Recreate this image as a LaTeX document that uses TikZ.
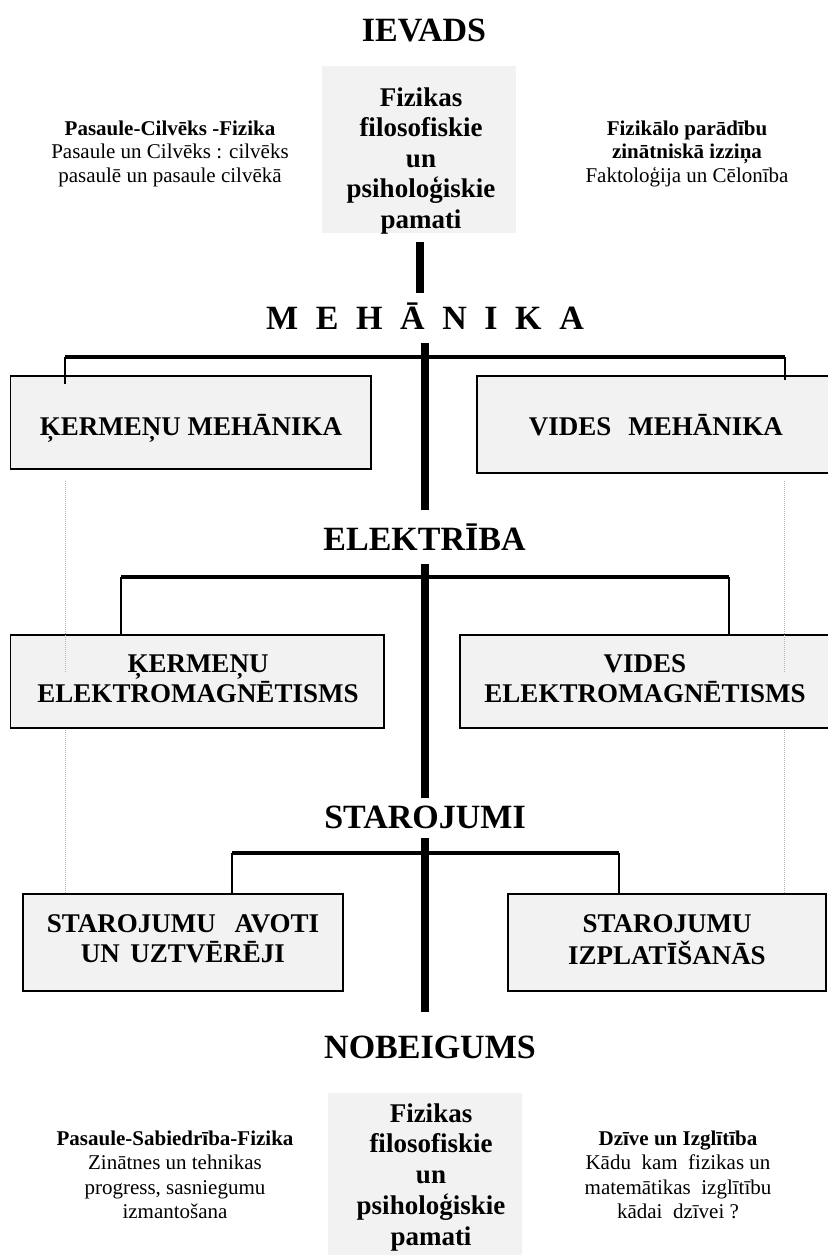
\documentclass[tikz,border=0pt]{standalone}
\usepackage{fontspec}
\setmainfont{Liberation Serif}
\definecolor{boxgray}{RGB}{242,242,242}
\newcommand{\mlines}[1]{\begin{tabular}[t]{@{}c@{}}#1\end{tabular}}
\begin{document}
\begin{tikzpicture}[x=1pt,y=-1pt,
  every node/.style={inner sep=0pt, outer sep=0pt},
  heading/.style={anchor=base, font=\fontsize{34}{38}\selectfont\bfseries},
  centertxt/.style={anchor=base, font=\fontsize{27}{30.5}\selectfont\bfseries},
  centertxtb/.style={anchor=base, font=\fontsize{27}{30.75}\selectfont\bfseries},
  boxtxt/.style={anchor=base, font=\fontsize{27}{30.5}\selectfont\bfseries},
  side/.style={anchor=base, font=\fontsize{21}{23.5}\selectfont},
  sideb/.style={anchor=base, font=\fontsize{21}{24.5}\selectfont},
  greybox/.style={fill=boxgray, anchor=north west},
  framebox/.style={draw=black, line width=1.5pt, fill=boxgray, anchor=north west},
  spine/.style={line width=8pt},
  bar/.style={line width=4pt},
  drop/.style={line width=2pt},
  guide/.style={draw=gray!60, line width=0.8pt, dash pattern=on 1pt off 1pt}
]
\useasboundingbox (0,0) rectangle (827,1255);

% ---------- IEVADS ----------
\node[heading] (ievads) at (424,42) {IEVADS};
\node[greybox, minimum width=194pt, minimum height=167pt] (topbox) at (322,66) {};
\node[centertxt] (toptxt) at (421,106) {\mlines{Fizikas\\filosofiskie\\un\\psiholoģiskie\\pamati}};
\node[side] (topleft) at (170,135) {\mlines{\textbf{Pasaule-Cilvēks -Fizika}\\Pasaule un Cilvēks : cilvēks\\pasaulē un pasaule cilvēkā}};
\node[side] (topright) at (687,135) {\mlines{\textbf{Fizikālo parādību}\\\textbf{zinātniskā izziņa}\\Faktoloģija un Cēlonība}};

% ---------- guides (lower parts, behind boxes) ----------
\coordinate (gl1a) at (65.5,481);  \coordinate (gl1b) at (65.5,673);
\coordinate (gl2a) at (65.5,728);  \coordinate (gl2b) at (65.5,893);
\coordinate (gr1a) at (784.5,481); \coordinate (gr1b) at (784.5,673);
\coordinate (gr2a) at (784.5,728); \coordinate (gr2b) at (784.5,893);
\draw[guide] (gl2a) -- (gl2b);
\draw[guide] (gr2a) -- (gr2b);

% ---------- MEHANIKA ----------
\coordinate (s1a) at (420,242); \coordinate (s1b) at (420,293);
\draw[spine] (s1a) -- (s1b);
\node[heading] (meh) at (425,329) {M\kern17.6pt E\kern17.6pt H\kern17.6pt Ā\kern17.6pt N\kern17.6pt I\kern17.6pt K\kern17.6pt A};
\node[framebox, minimum width=360.5pt, minimum height=93pt] (km) at (10.5,376) {};
\node[framebox, minimum width=360pt, minimum height=97pt] (vm) at (477,376) {};
\node[boxtxt] (kmt) at (191,435) {ĶERMEŅU MEHĀNIKA};
\node[boxtxt] (vmt) at (656,435) {VIDES\hspace{17pt}MEHĀNIKA};
\coordinate (s2a) at (425,343); \coordinate (s2b) at (425,510);
\coordinate (b1l) at (65,357); \coordinate (b1r) at (785,357);
\coordinate (d1l) at (65,384); \coordinate (d1r) at (785,380);
\draw[bar] (b1l) -- (b1r);
\draw[drop] (b1l) -- (d1l);
\draw[drop] (b1r) -- (d1r);
\draw[spine] (s2a) -- (s2b);

% ---------- ELEKTRIBA ----------
\node[heading] (el) at (424.5,550) {ELEKTRĪBA};
\node[framebox, minimum width=373.5pt, minimum height=93pt] (ke) at (10.5,635) {};
\node[framebox, minimum width=380pt, minimum height=93pt] (ve) at (460,635) {};
\node[boxtxt] (ket) at (198,672) {\mlines{ĶERMEŅU\\ELEKTROMAGNĒTISMS}};
\node[boxtxt] (vet) at (645,672) {\mlines{VIDES\\ELEKTROMAGNĒTISMS}};
\coordinate (s3a) at (425,564); \coordinate (s3b) at (425,798);
\coordinate (b2l) at (121,577); \coordinate (b2r) at (729,577);
\draw[bar] (b2l) -- (b2r);
\draw[drop] (b2l) -- (b2l |- ke.north);
\draw[drop] (b2r) -- (b2r |- ve.north);
\draw[spine] (s3a) -- (s3b);
\draw[guide] (gl1a) -- (gl1b);
\draw[guide] (gr1a) -- (gr1b);

% ---------- STAROJUMI ----------
\node[heading] (st) at (425,828) {STAROJUMI};
\node[framebox, minimum width=320pt, minimum height=97pt] (sa) at (23,894) {};
\node[framebox, minimum width=318pt, minimum height=97pt] (si) at (508,894) {};
\node[boxtxt] (sat) at (183,932) {\mlines{STAROJUMU\hspace{19pt}AVOTI\\UN\hspace{10.5pt}UZTVĒRĒJI}};
\node[boxtxt] (sit) at (667,932) {\mlines{STAROJUMU\\IZPLATĪŠANĀS}};
\coordinate (s4a) at (425,838); \coordinate (s4b) at (425,1012);
\coordinate (b3l) at (232,853); \coordinate (b3r) at (619,853);
\draw[bar] (b3l) -- (b3r);
\draw[drop] (b3l) -- (b3l |- sa.north);
\draw[drop] (b3r) -- (b3r |- si.north);
\draw[spine] (s4a) -- (s4b);

% ---------- NOBEIGUMS ----------
\node[heading] (nob) at (430,1058) {NOBEIGUMS};
\node[greybox, minimum width=194pt, minimum height=170pt] (botbox) at (328,1093) {};
\node[centertxtb] (bottxt) at (431,1122) {\mlines{Fizikas\\filosofiskie\\un\\psiholoģiskie\\pamati}};
\node[sideb] (botleft) at (175,1145) {\mlines{\textbf{Pasaule-Sabiedrība-Fizika}\\Zinātnes un tehnikas\\progress, sasniegumu\\izmantošana}};
\node[sideb] (botright) at (678,1145) {\mlines{\textbf{Dzīve un Izglītība}\\Kādu\ \ kam\ \ fizikas un\\matemātikas\ \ izglītību\\kādai\ \ dzīvei ?}};
\end{tikzpicture}
\end{document}
